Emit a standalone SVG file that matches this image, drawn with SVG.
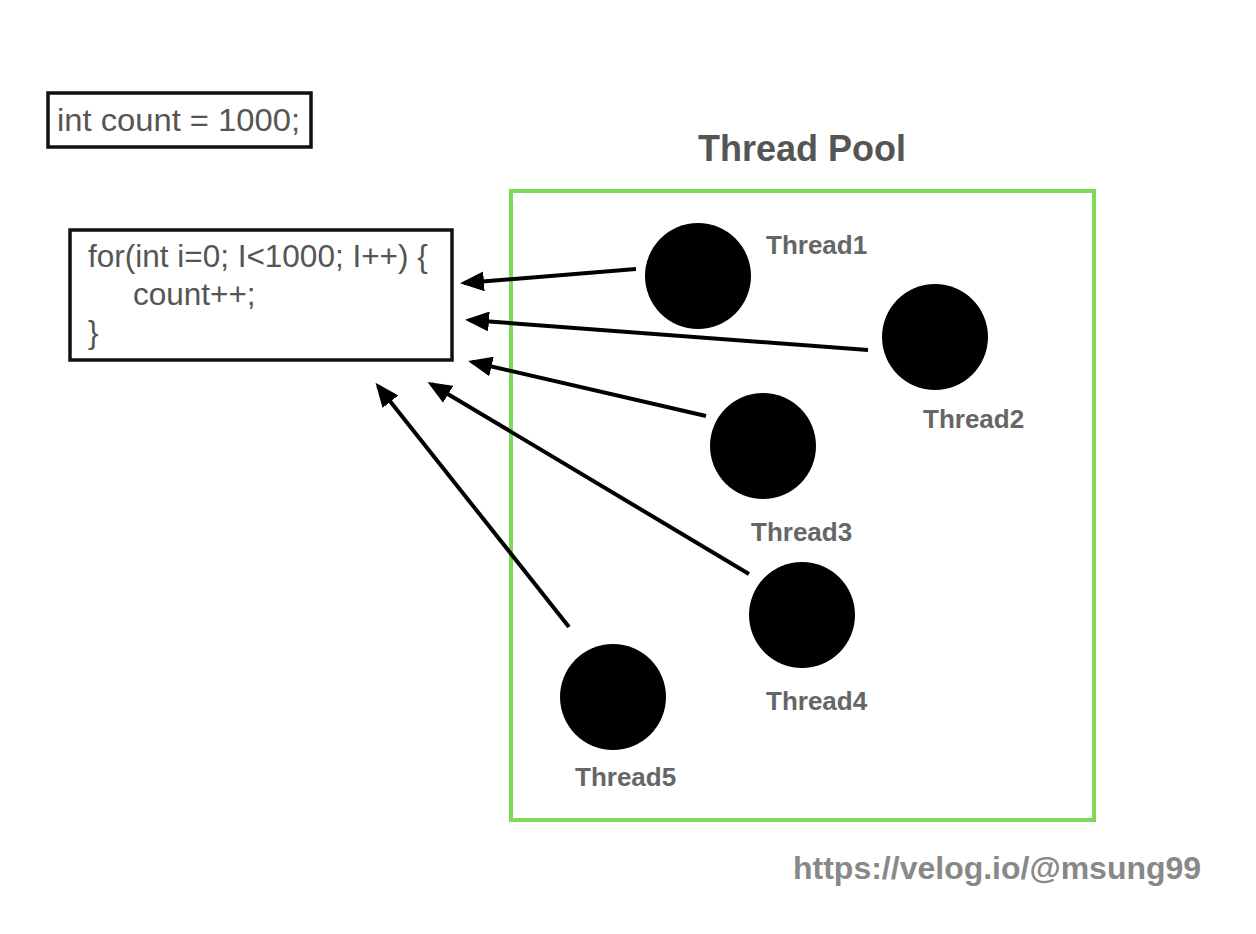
<svg xmlns="http://www.w3.org/2000/svg" width="1256" height="934" viewBox="0 0 1256 934">
<style>
.code{font-family:"Liberation Sans",Arial,sans-serif;font-size:31.5px;fill:#555}
.lbl{font-family:"Liberation Sans",Arial,sans-serif;font-size:26px;font-weight:bold;fill:#666}
.box{fill:none;stroke:#111;stroke-width:3.5}
.conn{stroke:#000;stroke-width:4;fill:none;marker-end:url(#ah)}
.th{fill:#000}
</style>
<defs>
<marker id="ah" markerWidth="6" markerHeight="5" refX="5" refY="2.5" orient="auto" markerUnits="strokeWidth">
<path d="M0,0 L6,2.5 L0,5 Z" fill="#000"/>
</marker>
</defs>
<rect width="1256" height="934" fill="#fff"/>
<g id="count-decl">
<rect class="box" x="48" y="93" width="263" height="54"/>
<text class="code" x="57" y="131" font-size="33" textLength="243" lengthAdjust="spacingAndGlyphs">int count = 1000;</text>
</g>
<g id="for-loop">
<rect class="box" x="70" y="230" width="382" height="130"/>
<text class="code" x="88" y="267">for(int i=0; I&lt;1000; I++) {</text>
<text class="code" x="133" y="305">count++;</text>
<text class="code" x="88" y="343">}</text>
</g>
<g id="thread-pool">
<rect x="511" y="191" width="583" height="629" fill="none" stroke="#7ed957" stroke-width="4"/>
<text x="802" y="161" text-anchor="middle" font-family="'Liberation Sans',Arial,sans-serif" font-size="36" font-weight="bold" fill="#555">Thread Pool</text>
</g>
<g id="connectors">
<line class="conn" x1="636" y1="269" x2="464" y2="283"/>
<line class="conn" x1="868" y1="350" x2="469" y2="320"/>
<line class="conn" x1="706" y1="416" x2="472" y2="362"/>
<line class="conn" x1="749" y1="574" x2="431" y2="384"/>
<line class="conn" x1="569" y1="627" x2="378" y2="386"/>
</g>
<g id="thread1">
<circle class="th" cx="698" cy="276" r="53"/>
<text class="lbl" x="766" y="254">Thread1</text>
</g>
<g id="thread2">
<circle class="th" cx="935" cy="337" r="53"/>
<text class="lbl" x="923" y="428">Thread2</text>
</g>
<g id="thread3">
<circle class="th" cx="763" cy="446" r="53"/>
<text class="lbl" x="751" y="541">Thread3</text>
</g>
<g id="thread4">
<circle class="th" cx="802" cy="615" r="53"/>
<text class="lbl" x="766" y="710">Thread4</text>
</g>
<g id="thread5">
<circle class="th" cx="613" cy="697" r="53"/>
<text class="lbl" x="575" y="786">Thread5</text>
</g>
<text x="793" y="879" font-family="'Liberation Sans',Arial,sans-serif" font-size="32" font-weight="bold" fill="#888">https://velog.io/@msung99</text>
</svg>
